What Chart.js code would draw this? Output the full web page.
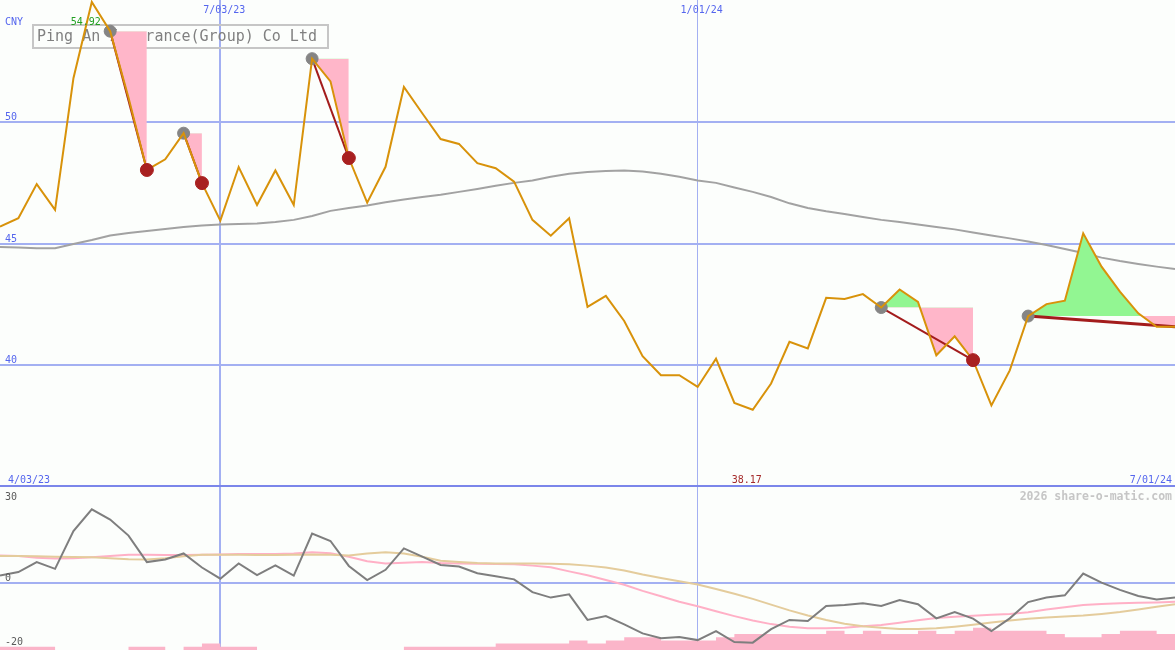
<!DOCTYPE html>
<html>
<head>
<meta charset="utf-8">
<title>Ping An Insurance(Group) Co Ltd</title>
<script src="https://cdn.jsdelivr.net/npm/chart.js@4.4.1/dist/chart.umd.min.js"></script>
<style>
  body { margin: 0; background: #fcfefc; }
  #wrap { position: relative; width: 1175px; height: 650px; overflow: hidden; }
  #priceBox { position: absolute; left: 0; top: 0; width: 1175px; height: 487px; }
  #oscBox { position: absolute; left: 0; top: 487px; width: 1175px; height: 163px; }
  #divider { position: absolute; left: 0; top: 485px; width: 1175px; height: 2px; background: #7b86ea; }
</style>
</head>
<body>
<div id="wrap">
  <div id="priceBox"><canvas id="price-chart"></canvas></div>
  <div id="oscBox"><canvas id="osc-chart"></canvas></div>
  <div id="divider"></div>
</div>
<script>
// weekly closing prices (CNY), week 0 = left edge
const price = [
  45.69, 46.04, 47.44, 46.38, 51.79, 54.92, 53.72, 50.99, 48.02, 48.46,
  49.53, 47.48, 45.94, 48.14, 46.58, 48.00, 46.58, 52.59, 51.66, 48.51,
  46.68, 48.15, 51.43, 50.35, 49.29, 49.09, 48.30, 48.09, 47.54, 45.97,
  45.32, 46.04, 42.40, 42.85, 41.82, 40.37, 39.59, 39.59, 39.11, 40.27,
  38.45, 38.17, 39.25, 40.96, 40.69, 42.77, 42.72, 42.92, 42.37, 43.11,
  42.60, 40.41, 41.19, 40.21, 38.35, 39.79, 42.02, 42.51, 42.65, 45.42,
  44.05, 43.02, 42.13, 41.58, 41.58
];
// long moving average (grey curve)
const avg = [
  44.86, 44.84, 44.81, 44.81, 44.98, 45.14, 45.33, 45.43, 45.51, 45.60,
  45.68, 45.74, 45.78, 45.80, 45.82, 45.88, 45.97, 46.13, 46.34, 46.46,
  46.56, 46.69, 46.81, 46.91, 47.00, 47.12, 47.24, 47.37, 47.49, 47.59,
  47.74, 47.86, 47.94, 47.98, 48.00, 47.96, 47.86, 47.74, 47.59, 47.49,
  47.30, 47.12, 46.91, 46.65, 46.46, 46.32, 46.21, 46.09, 45.97, 45.88,
  45.78, 45.68, 45.58, 45.45, 45.33, 45.21, 45.08, 44.94, 44.77, 44.61,
  44.42, 44.28, 44.16, 44.05, 43.95
];
// lower panel: momentum and its two averages
const momentum = [
  2.3, 3.4, 6.5, 4.4, 16.2, 23.0, 19.8, 14.8, 6.5, 7.3,
  9.2, 4.8, 1.3, 6.1, 2.4, 5.5, 2.3, 15.4, 13.1, 5.3,
  0.9, 4.1, 10.8, 8.2, 5.6, 5.1, 3.0, 2.1, 1.1, -2.9,
  -4.6, -3.6, -11.6, -10.4, -13.0, -15.8, -17.3, -16.9, -17.9, -15.1,
  -18.5, -18.7, -14.5, -11.6, -11.9, -7.2, -6.9, -6.4, -7.2, -5.4,
  -6.7, -11.1, -9.1, -11.2, -15.1, -11.1, -6.0, -4.6, -3.9, 2.9,
  0.1, -2.2, -4.1, -5.2, -4.6
];
const momFast = [
  8.6, 8.4, 7.9, 7.6, 7.7, 8.0, 8.4, 8.8, 8.8, 8.7,
  8.7, 8.8, 8.9, 9.0, 9.0, 9.0, 9.2, 9.6, 9.3, 8.2,
  6.8, 6.1, 6.3, 6.5, 6.2, 6.1, 6.0, 5.9, 5.8, 5.4,
  4.9, 3.6, 2.4, 0.9, -0.6, -2.5, -4.2, -5.9, -7.3, -8.9,
  -10.4, -11.8, -12.9, -13.7, -14.2, -14.2, -14.0, -13.6, -13.2, -12.5,
  -11.7, -11.0, -10.6, -10.3, -10.0, -9.7, -9.2, -8.3, -7.6, -6.9,
  -6.6, -6.4, -6.2, -6.1, -5.9
];
const momSlow = [
  8.4, 8.4, 8.3, 8.2, 8.1, 8.0, 7.7, 7.4, 7.3, 7.7,
  8.3, 8.8, 8.8, 8.8, 8.7, 8.7, 8.8, 8.9, 8.8, 8.6,
  9.2, 9.6, 9.2, 8.2, 6.9, 6.5, 6.2, 6.1, 6.1, 6.1,
  6.0, 5.8, 5.4, 4.8, 3.9, 2.6, 1.5, 0.5, -0.5, -1.9,
  -3.4, -5.0, -6.8, -8.6, -10.2, -11.6, -12.8, -13.6, -14.0, -14.4,
  -14.4, -14.2, -13.7, -13.1, -12.4, -11.8, -11.2, -10.8, -10.5, -10.2,
  -9.7, -9.1, -8.3, -7.5, -6.7
];
const volume = [
  1, 1, 1, 0, 0, 0, 0, 1, 1, 0,
  1, 2, 1, 1, 0, 0, 0, 0, 0, 0,
  0, 0, 1, 1, 1, 1, 1, 2, 2, 2,
  2, 3, 2, 3, 4, 4, 3, 3, 3, 4,
  5, 5, 5, 5, 5, 6, 5, 6, 5, 5,
  6, 5, 6, 7, 6, 6, 6, 5, 4, 4,
  5, 6, 6, 5, 5
];

const title = 'Ping An Insurance(Group) Co Ltd';
const dateIdx = [12, 38];
const dateLabels = ['7/03/23', '1/01/24'];
const startLabel = '4/03/23';
const endLabel = '7/01/24';
const priceTicks = [40, 45, 50];
const oscTicks = [30, 0, -20];
const oscGrid = [0];

// signals: start week, end week, closed (red dot) or still open
const sigFrom = [6, 10, 17, 48, 56];
const sigTo = [8, 11, 19, 53, 64];
const sigClosed = [true, true, true, true, false];

const BLUE_GRID = '#a3b0f2';
const BLUE_TEXT = '#5566ee';
const ORANGE = '#d8920a';
const PINK = '#ffb6c9';
const GREEN = '#92f692';
const MONO = '"DejaVu Sans Mono", monospace';

const pts = (arr, from = 0, to = arr.length - 1) =>
    arr.slice(from, to + 1).map((v, k) => ({ x: from + k, y: v }));

// shared x axis, week index
const xAxis = {
    type: 'linear',
    min: 0,
    max: price.length - 1,
    afterBuildTicks: s => { s.ticks = dateIdx.map(v => ({ value: v })); },
    afterFit: s => { s.height = 0; },
    ticks: { display: false },
    grid: { color: BLUE_GRID, lineWidth: c => (c.index === 0 ? 2 : 1), drawTicks: false },
    border: { display: false }
};

//build the price panel datasets
const mainSets = [];
mainSets.push({ data: pts(price), borderColor: ORANGE, borderWidth: 2, pointRadius: 0, order: 2 });
mainSets.push({ data: pts(avg), borderColor: '#a2a2a2', borderWidth: 2, pointRadius: 0, order: 9 });
sigFrom.forEach((from, n) => {
    const to = sigTo[n];
    const level = price.slice(from, to + 1).map(() => price[from]);
    mainSets.push({
        data: pts(price, from, to), borderColor: 'transparent', borderWidth: 0, pointRadius: 0,
        fill: { target: '+1', above: GREEN, below: PINK }, order: 8
    });
    mainSets.push({
        data: level.map((v, k) => ({ x: from + k, y: v })),
        borderColor: 'transparent', borderWidth: 0, pointRadius: 0, order: 8
    });
    mainSets.push({
        data: [{ x: from, y: price[from] }, { x: to, y: price[to] }],
        borderColor: '#a31c1c', borderWidth: sigClosed[n] ? 2 : 3, pointRadius: 0, order: 4
    });
});
mainSets.push({
    data: sigFrom.map(i => ({ x: i, y: price[i] })), showLine: false,
    pointRadius: 6, pointBackgroundColor: '#858585', pointBorderColor: '#858585', order: 3
});
mainSets.push({
    data: sigTo.filter((i, n) => sigClosed[n]).map(i => ({ x: i, y: price[i] })), showLine: false,
    pointRadius: 6.5, pointBackgroundColor: '#a82020', pointBorderColor: '#a82020', order: 1
});

const priceText = {
    id: 'priceText',
    beforeDatasetsDraw(chart) {
        const ctx = chart.ctx;
        ctx.save();
        ctx.strokeStyle = '#c6c6c6';
        ctx.lineWidth = 2;
        ctx.strokeRect(33, 25, 295, 23);
        ctx.font = '15px ' + MONO;
        ctx.fillStyle = '#808080';
        ctx.fillText(title, 37, 41);
        ctx.restore();
    },
    afterDraw(chart) {
        const { ctx, scales: { x, y } } = chart;
        ctx.save();
        ctx.font = '10px ' + MONO;
        ctx.textBaseline = 'alphabetic';
        ctx.fillStyle = BLUE_TEXT;
        ctx.textAlign = 'left';
        ctx.fillText('CNY', 5, 25);
        priceTicks.forEach(v => ctx.fillText(String(v), 5, y.getPixelForValue(v) - 2));
        ctx.fillText(startLabel, 8, 483);
        ctx.textAlign = 'center';
        dateIdx.forEach((d, n) => ctx.fillText(dateLabels[n], x.getPixelForValue(d) + 4, 13));
        ctx.textAlign = 'right';
        ctx.fillText(endLabel, 1172, 483);

        const hi = Math.max(...price);
        const lo = Math.min(...price);
        ctx.textAlign = 'center';
        ctx.fillStyle = '#22a022';
        ctx.fillText(hi.toFixed(2), x.getPixelForValue(price.indexOf(hi)) - 6, 25);
        ctx.fillStyle = '#a52a2a';
        ctx.fillText(lo.toFixed(2), x.getPixelForValue(price.indexOf(lo)) - 6, 483);
        ctx.restore();
    }
};

new Chart(document.getElementById('price-chart').getContext('2d'), {
    type: 'line',
    data: { datasets: mainSets },
    options: {
        responsive: true,
        maintainAspectRatio: false,
        animation: false,
        layout: { padding: 0, autoPadding: false },
        plugins: { legend: { display: false }, tooltip: { enabled: false } },
        scales: {
            x: xAxis,
            y: {
                min: 35,
                max: 55,
                afterBuildTicks: s => { s.ticks = priceTicks.map(v => ({ value: v })); },
                afterFit: s => { s.width = 0; },
                ticks: { display: false },
                grid: { color: BLUE_GRID, lineWidth: 2, drawTicks: false },
                border: { display: false }
            }
        }
    },
    plugins: [priceText]
});

const oscText = {
    id: 'oscText',
    afterDraw(chart) {
        const { ctx, chartArea, scales: { y } } = chart;
        ctx.save();
        ctx.font = '10px ' + MONO;
        ctx.fillStyle = '#5a5a5a';
        ctx.textAlign = 'left';
        oscTicks.forEach(v => {
            const py = Math.max(y.getPixelForValue(v) - 1.5, chartArea.top + 13);
            ctx.fillText(String(v), 5, py);
        });
        ctx.font = 'bold 11.5px ' + MONO;
        ctx.fillStyle = '#c6c6c6';
        ctx.textAlign = 'right';
        ctx.fillText('2026 share-o-matic.com', 1172, 13);
        ctx.restore();
    }
};

new Chart(document.getElementById('osc-chart').getContext('2d'), {
    type: 'line',
    data: {
        datasets: [
            { data: pts(momentum), borderColor: '#7e7e7e', borderWidth: 2, pointRadius: 0, order: 1 },
            { data: pts(momFast), borderColor: '#ffb0c6', borderWidth: 2, pointRadius: 0, order: 3 },
            { data: pts(momSlow), borderColor: '#e4cc9c', borderWidth: 2, pointRadius: 0, order: 2 },
            {
                data: pts(volume), yAxisID: 'yv', stepped: 'before', borderColor: 'transparent',
                borderWidth: 0, pointRadius: 0, fill: 'start', backgroundColor: '#fbb5c9', order: 4
            }
        ]
    },
    options: {
        responsive: true,
        maintainAspectRatio: false,
        animation: false,
        layout: { padding: 0, autoPadding: false },
        plugins: { legend: { display: false }, tooltip: { enabled: false } },
        scales: {
            x: xAxis,
            y: {
                min: -21,
                max: 30,
                afterBuildTicks: s => { s.ticks = oscGrid.map(v => ({ value: v })); },
                afterFit: s => { s.width = 0; },
                ticks: { display: false },
                grid: { color: BLUE_GRID, lineWidth: 2, drawTicks: false },
                border: { display: false }
            },
            yv: { display: false, min: 0, max: 51 }
        }
    },
    plugins: [oscText]
});
</script>
</body>
</html>
